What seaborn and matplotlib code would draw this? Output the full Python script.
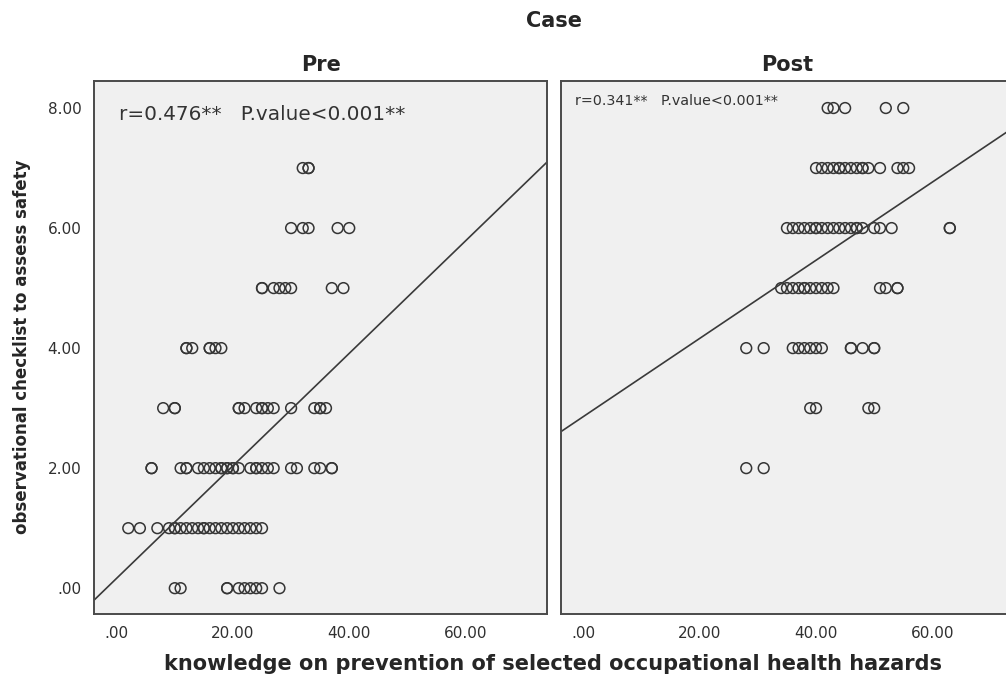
import matplotlib
matplotlib.use("Agg")
import matplotlib.pyplot as plt
from matplotlib.ticker import FuncFormatter
import pandas as pd
import seaborn as sns

sns.set_style("white")
plt.rcParams['font.family'] = ['DejaVu Sans']

# observational checklist score (rows) and the knowledge scores seen on each row
checklist_levels = [0, 1, 2, 3, 4, 5, 6, 7, 8]
pre_knowledge = [
    [10, 11, 19, 19, 21, 22, 23, 24, 25, 28],
    [2, 4, 7, 9, 10, 10, 11, 12, 13, 14, 15, 15, 16, 17, 18, 19, 20, 21, 22, 23, 24, 25],
    [6, 6, 11, 12, 12, 14, 15, 16, 17, 18, 18, 19, 19, 20, 20, 21, 23, 24, 24, 25, 26, 27,
     30, 31, 34, 35, 37, 37],
    [8, 10, 10, 21, 21, 22, 24, 25, 25, 26, 27, 30, 34, 35, 35, 36],
    [12, 12, 13, 16, 16, 17, 18],
    [25, 25, 27, 28, 29, 30, 37, 39],
    [30, 32, 33, 38, 40],
    [32, 33, 33],
    [],
]
post_knowledge = [
    [],
    [],
    [28, 31],
    [39, 40, 49, 50],
    [28, 31, 36, 37, 38, 39, 40, 41, 46, 46, 48, 50, 50],
    [34, 35, 36, 37, 38, 38, 39, 40, 41, 42, 43, 51, 52, 54, 54],
    [35, 36, 37, 38, 39, 40, 40, 41, 42, 43, 44, 45, 46, 47, 47, 48, 50, 51, 53, 63, 63],
    [40, 41, 42, 43, 44, 44, 45, 46, 47, 48, 48, 49, 51, 54, 55, 56],
    [42, 43, 45, 52, 55],
]
case_names = ["Pre", "Post"]
stats_text = ["r=0.476**   P.value<0.001**", "r=0.341**   P.value<0.001**"]
# fit lines as printed on the chart (intercept, slope)
fit_intercept = [0.165, 2.86]
fit_slope = [0.0937, 0.0651]

rows = []
for case, groups in zip(case_names, [pre_knowledge, post_knowledge]):
    for level, xs in zip(checklist_levels, groups):
        for x in xs:
            rows.append({"Case": case, "knowledge": x, "checklist": level})
df = pd.DataFrame(rows)

fig = plt.figure(figsize=(10.06, 6.78), dpi=100)
ax_pre = fig.add_axes([0.0934, 0.0944, 0.4506, 0.7861])
ax_post = fig.add_axes([0.5574, 0.0944, 0.4506, 0.7861])

fmt = FuncFormatter(lambda v, p: ("%.2f" % v).lstrip("0") if v >= 0 else "%.2f" % v)

for i, (ax, case) in enumerate(zip([ax_pre, ax_post], case_names)):
    sub = df[df["Case"] == case]
    ax.set_facecolor("#f0f0f0")
    sns.scatterplot(data=sub, x="knowledge", y="checklist", ax=ax, marker="o", s=60,
                    facecolors="none", edgecolor="#353535", linewidth=1.1, legend=False)
    ax.axline((0, fit_intercept[i]), slope=fit_slope[i], color="#3a3a3a", linewidth=1.2)
    ax.set_xlim(-3.9, 74.05)
    ax.set_ylim(-0.43, 8.45)
    ax.set_xticks([0, 20, 40, 60])
    ax.set_yticks([0, 2, 4, 6, 8])
    ax.xaxis.set_major_formatter(fmt)
    ax.yaxis.set_major_formatter(fmt)
    ax.set_xlabel("")
    ax.set_ylabel("")
    ax.tick_params(direction="out", length=7, width=1.3, color="#4a4a4a",
                   labelsize=11, labelcolor="#303030", pad=2)
    for sp in ax.spines.values():
        sp.set_color("#4a4a4a")
        sp.set_linewidth(1.4)
    ax.set_title(case, fontsize=15, fontweight="bold", pad=7)

ax_post.tick_params(left=False, labelleft=False)

ax_pre.text(0.055, 0.938, stats_text[0], transform=ax_pre.transAxes, fontsize=14.4,
            color="#333333", va="center", ha="left")
ax_post.text(0.032, 0.962, stats_text[1], transform=ax_post.transAxes, fontsize=10.3,
             color="#333333", va="center", ha="left")

fig.text(0.551, 0.969, "Case", fontsize=15, fontweight="bold", ha="center", va="center")
fig.text(0.55, 0.020, "knowledge on prevention of selected occupational health hazards",
         fontsize=15, fontweight="bold", ha="center", va="center")
fig.text(0.022, 0.488, "observational checklist to assess safety", fontsize=12,
         fontweight="bold", rotation=90, ha="center", va="center")

fig.savefig("out.png", dpi=100, facecolor="white")
